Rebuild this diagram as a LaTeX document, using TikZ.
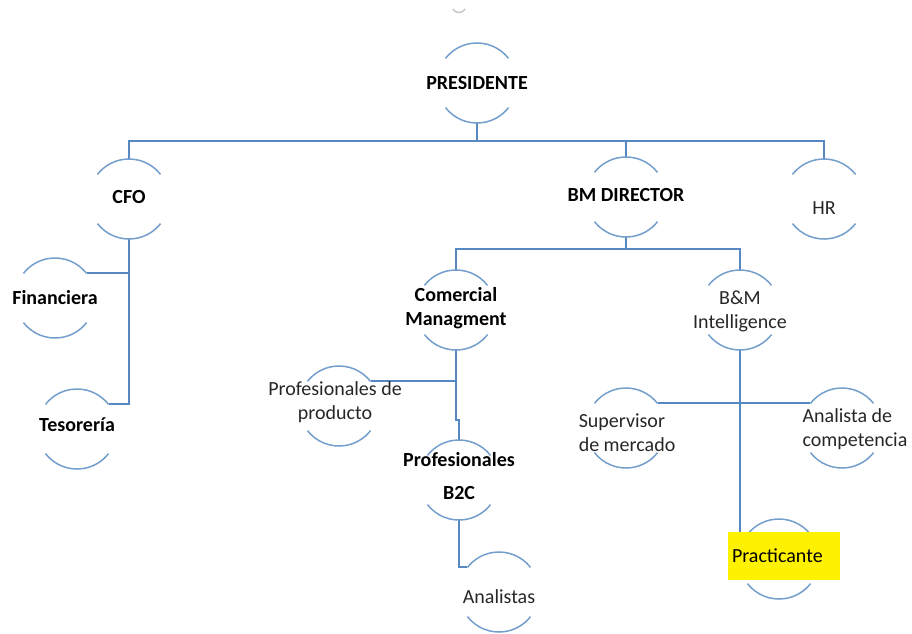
\documentclass[tikz,border=0pt]{standalone}
\usepackage{fontspec}
\setmainfont{Carlito}
\definecolor{lineblue}{RGB}{86,136,196}
\definecolor{ringblue}{RGB}{116,158,204}
\definecolor{txtgray}{RGB}{38,38,38}
\begin{document}
\begin{tikzpicture}[x=1pt, y=-1pt,
  ring/.style={circle, minimum size=80pt, inner sep=0pt, outer sep=0pt},
  boss/.style={font=\bfseries\fontsize{20}{24}\selectfont, text=black, align=center, inner sep=1pt},
  staff/.style={font=\fontsize{20}{24}\selectfont, text=txtgray, align=center, inner sep=1pt},
  link/.style={draw=lineblue, line width=2pt}]
\useasboundingbox (0,0) rectangle (912,633);

% cut off ring at the top
\draw[gray!45, line width=1.5pt] (453,9) arc[start angle=210, end angle=330, radius=7pt];

\node[ring] (pres) at (477,83) {};
\node[ring] (cfo) at (129,199) {};
\node[ring] (bmd) at (626,197) {};
\node[ring] (hr) at (824,199) {};
\node[ring] (fin) at (55,298) {};
\node[ring] (tes) at (77,429) {};
\node[ring] (com) at (456,310) {};
\node[ring] (bmi) at (740,310) {};
\node[ring] (prod) at (339,406) {};
\node[ring] (b2c) at (459,480) {};
\node[ring] (sup) at (626,428) {};
\node[ring] (ana) at (842,428) {};
\node[ring] (anal) at (499,592) {};
\node[ring] (prac) at (779,559) {};

% connectors
\draw[link] (pres.south) -- ++(0,18) coordinate (tb);
\draw[link] (cfo.north) |- (tb) -| (hr.north);
\draw[link] (tb) -| (bmd.north);
\draw[link] (cfo.south) |- (tes.38);
\draw[link] (cfo.south |- fin.38) -- (fin.38);
\draw[link] (bmd.south) -- ++(0,12) coordinate (mb);
\draw[link] (com.north) |- (mb) -| (bmi.north);
\draw[link] (com.south) |- (prod.38);
\draw[link] (com.south) -- ++(0,70) -| (b2c.north);
\draw[link] (b2c.south) |- (anal.142);
\draw[link] (bmi.south) |- (prac.142);
\draw[link] (sup.38) -- (ana.142);

% open rings
\foreach \r in {pres,cfo,bmd,hr,fin,tes,com,bmi,prod,b2c,sup,ana,anal,prac}
{
  \draw[ringblue, line width=1.5pt] (\r.38) arc[start angle=38, end angle=142, radius=40pt];
  \draw[ringblue, line width=1.5pt] (\r.218) arc[start angle=218, end angle=322, radius=40pt];
}

% labels
\node[boss] (pres-t) at (pres) {PRESIDENTE};
\node[boss] (cfo-t) at ([yshift=2pt]cfo) {CFO};
\node[boss] (bmd-t) at ([yshift=2pt]bmd) {BM DIRECTOR};
\node[staff] (hr-t) at ([yshift=-9pt]hr) {HR};
\node[boss] (fin-t) at (fin) {Financiera};
\node[boss] (tes-t) at ([yshift=4pt]tes) {Tesorería};
\node[boss] (com-t) at ([yshift=2pt]com) {Comercial\\Managment};
\node[staff] (bmi-t) at ([yshift=-1pt]bmi) {B\&M\\Intelligence};
\node[staff] (prod-t) at ([xshift=-4pt, yshift=4pt]prod) {Profesionales de\\producto};
\node[boss] (b2c-t) at ([yshift=4pt]b2c) {Profesionales\\[9pt]B2C};
\node[staff, align=left] (sup-t) at ([xshift=1pt, yshift=-5pt]sup) {Supervisor\\de mercado};
\node[staff, align=left] (ana-t) at ([xshift=13pt, yshift=-1pt]ana) {Analista de\\competencia};
\node[staff] (anal-t) at ([yshift=-5pt]anal) {Analistas};
\node[staff, text=black, fill=yellow, text width=104pt, align=left, inner xsep=4pt, minimum height=48pt] (prac-t) at (784,556) {Practicante};

\end{tikzpicture}
\end{document}
